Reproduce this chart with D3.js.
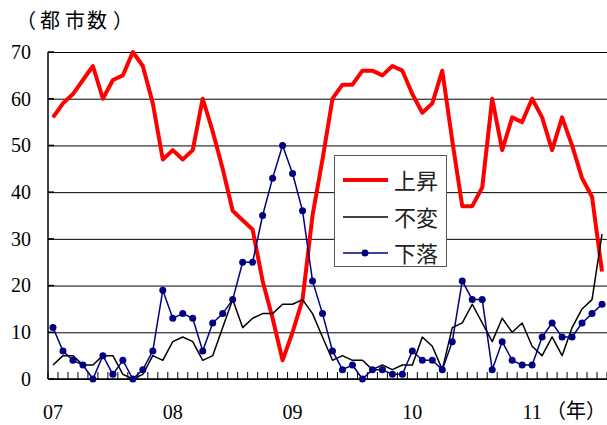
<!DOCTYPE html>
<html>
<head>
<meta charset="utf-8">
<script src="https://cdn.jsdelivr.net/npm/d3@7"></script>
<style>
  body { margin: 0; background: #fff; }
  svg { display: block; }
</style>
</head>
<body>
<svg id="chart" width="607" height="425"></svg>
<script>
// Monthly survey of 70 cities: number of cities rising / unchanged / falling
const months = d3.timeMonth.range(new Date(2007, 0, 1), new Date(2011, 8, 1))
  .map(d3.timeFormat("%Y-%m"));

const rising = [56, 59, 61, 64, 67, 60, 64, 65, 70, 67,
                59, 47, 49, 47, 49, 60, 53, 45, 36, 34,
                32, 21, 13, 4, 10, 17, 35, 47, 60, 63,
                63, 66, 66, 65, 67, 66, 61, 57, 59, 66,
                51, 37, 37, 41, 60, 49, 56, 55, 60, 56,
                49, 56, 50, 43, 39, 23];
const unchanged = [3, 5, 5, 3, 3, 5, 5, 1, 0, 1,
                   5, 4, 8, 9, 8, 4, 5, 11, 17, 11,
                   13, 14, 14, 16, 16, 17, 14, 9, 4, 5,
                   4, 4, 2, 3, 2, 3, 3, 9, 7, 2,
                   11, 12, 16, 12, 8, 13, 10, 12, 7, 5,
                   9, 5, 11, 15, 17, 31];
const falling = [11, 6, 4, 3, 0, 5, 1, 4, 0, 2,
                 6, 19, 13, 14, 13, 6, 12, 14, 17, 25,
                 25, 35, 43, 50, 44, 36, 21, 14, 6, 2,
                 3, 0, 2, 2, 1, 1, 6, 4, 4, 2,
                 8, 21, 17, 17, 2, 8, 4, 3, 3, 9,
                 12, 9, 9, 12, 14, 16];

const yTicks = [0, 10, 20, 30, 40, 50, 60, 70];
const yearMonths = ["2007-01", "2008-01", "2009-01", "2010-01", "2011-01"];
const yearLabels = ["07", "08", "09", "10", "11"];
const seriesNames = ["上昇", "不変", "下落"];

const serif = "'Liberation Serif', 'Times New Roman', serif";
const cjk = "'Noto Sans CJK JP', 'Noto Sans CJK SC', sans-serif";

const svg = d3.select("#chart");
const plotLeft = 48, plotRight = 607, plotTop = 52, plotBottom = 379;

const x = d3.scaleBand().domain(months).range([plotLeft, plotRight]).padding(0);
const y = d3.scaleLinear().domain([0, 70]).range([plotBottom, plotTop]);
const cx = m => x(m) + x.bandwidth() / 2;

// Horizontal gridlines and value labels
const yAxis = svg.append("g")
  .attr("transform", `translate(${plotLeft},0)`)
  .call(d3.axisLeft(y).tickValues(yTicks).tickSize(-(plotRight - plotLeft)).tickPadding(17));
yAxis.select(".domain").remove();
yAxis.selectAll(".tick line").attr("stroke", "#000").attr("stroke-width", 1);
yAxis.selectAll(".tick text")
  .attr("fill", "#000")
  .style("font-family", serif)
  .style("font-size", "20px");

// Short inner tick marks on the value axis
svg.append("g").selectAll("line").data(yTicks).join("line")
  .attr("x1", plotLeft).attr("x2", plotLeft + 6)
  .attr("y1", d => y(d)).attr("y2", d => y(d))
  .attr("stroke", "#000").attr("stroke-width", 1.5);

// Axis lines
svg.append("line").attr("x1", plotLeft).attr("x2", plotLeft).attr("y1", y(70)).attr("y2", y(0))
  .attr("stroke", "#000").attr("stroke-width", 1.5);
svg.append("line").attr("x1", plotLeft).attr("x2", plotRight).attr("y1", y(0)).attr("y2", y(0))
  .attr("stroke", "#000").attr("stroke-width", 1.5);

// Monthly tick marks between categories
const tickXs = months.map(m => x(m)).concat([plotRight]);
svg.append("g").selectAll("line").data(tickXs).join("line")
  .attr("x1", d => d).attr("x2", d => d)
  .attr("y1", y(0)).attr("y2", y(0) - 7)
  .attr("stroke", "#000").attr("stroke-width", 1);

// Year labels
svg.append("g").selectAll("text").data(yearMonths).join("text")
  .attr("x", d => cx(d)).attr("y", 419)
  .attr("text-anchor", "middle")
  .style("font-family", serif).style("font-size", "20px")
  .text((d, i) => yearLabels[i]);

// Unit labels
svg.append("text").attr("x", 606).attr("y", 418).attr("text-anchor", "end")
  .style("font-family", cjk).style("font-size", "20px")
  .text("（年）");

const unitCities = svg.append("g").style("font-family", cjk).style("font-size", "20px")
  .attr("dominant-baseline", "central");
unitCities.append("text").attr("x", 36).attr("y", 19).attr("text-anchor", "end").text("（");
unitCities.append("text").attr("x", 50).attr("y", 19).attr("text-anchor", "middle").text("都");
unitCities.append("text").attr("x", 75).attr("y", 19).attr("text-anchor", "middle").text("市");
unitCities.append("text").attr("x", 97).attr("y", 19).attr("text-anchor", "middle").text("数");
unitCities.append("text").attr("x", 113).attr("y", 19).attr("text-anchor", "start").text("）");

// Series lines
const line = d3.line().x((d, i) => cx(months[i])).y(d => y(d));

svg.append("path").datum(rising)
  .attr("d", line).attr("fill", "none")
  .attr("stroke", "#ff0000").attr("stroke-width", 4)
  .attr("stroke-linejoin", "round");

svg.append("path").datum(unchanged)
  .attr("d", line).attr("fill", "none")
  .attr("stroke", "#000").attr("stroke-width", 1.5)
  .attr("stroke-linejoin", "round");

svg.append("path").datum(falling)
  .attr("d", line).attr("fill", "none")
  .attr("stroke", "#000080").attr("stroke-width", 1.5)
  .attr("stroke-linejoin", "round");

svg.append("g").selectAll("circle").data(falling).join("circle")
  .attr("cx", (d, i) => cx(months[i])).attr("cy", d => y(d))
  .attr("r", 3.5).attr("fill", "#000080");

// Legend
const legend = svg.append("g");
legend.append("rect").attr("x", 334.5).attr("y", 155.5).attr("width", 112).attr("height", 111)
  .attr("fill", "#fff").attr("stroke", "#555").attr("stroke-width", 1);
const legendStyles = [
  { color: "#ff0000", width: 4, dot: false, ly: 180 },
  { color: "#000", width: 1.5, dot: false, ly: 217 },
  { color: "#000080", width: 1.5, dot: true, ly: 253 }
];
seriesNames.forEach((name, i) => {
  const s = legendStyles[i];
  legend.append("line").attr("x1", 343).attr("x2", 388).attr("y1", s.ly).attr("y2", s.ly)
    .attr("stroke", s.color).attr("stroke-width", s.width);
  if (s.dot) {
    legend.append("circle").attr("cx", 365).attr("cy", s.ly).attr("r", 3.5).attr("fill", s.color);
  }
  legend.append("text").attr("x", 394).attr("y", s.ly - 1)
    .attr("dominant-baseline", "central")
    .style("font-family", cjk).style("font-size", "22px").attr("fill", "#222")
    .text(name);
});
</script>
</body>
</html>
